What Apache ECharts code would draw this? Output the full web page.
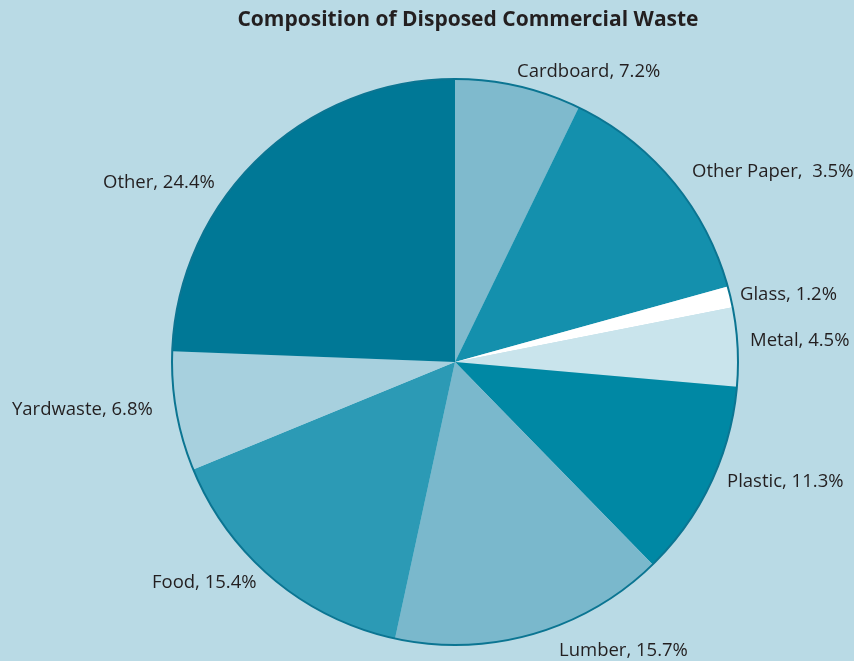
<!DOCTYPE html>
<html>
<head>
<meta charset="utf-8">
<script src="https://cdn.jsdelivr.net/npm/echarts@6/dist/echarts.min.js"></script>
<style>
html,body{margin:0;padding:0;background:#b9dae5;}
#chart{width:854px;height:661px;}
</style>
</head>
<body>
<div id="chart"></div>
<script>
// Data (slice sizes), with the labels as printed
const categories = ['Cardboard','Other Paper','Glass','Metal','Plastic','Lumber','Food','Yardwaste','Other'];
const values = [7.2, 13.5, 1.2, 4.5, 11.3, 15.7, 15.4, 6.8, 24.4];
const labelTexts = ['Cardboard, 7.2%','Other Paper,  3.5%','Glass, 1.2%','Metal, 4.5%','Plastic, 11.3%','Lumber, 15.7%','Food, 15.4%','Yardwaste, 6.8%','Other, 24.4%'];

// Styles
const colors = ['#7fbacd','#1490ad','#ffffff','#c9e4ec','#0088a4','#7ab8cc','#2c9ab5','#a7d0de','#007896'];
const labelPos = [[517,72],[692,172],[740,295],[750,341],[727,482],[559,651],[152,583],[12,410],[103,183]];

const chart = echarts.init(document.getElementById('chart'));
const FONT = '"Open Sans", "Liberation Sans", sans-serif';
chart.setOption({
  backgroundColor: '#b9dae5',
  animation: false,
  title: {
    text: 'Composition of Disposed Commercial Waste',
    left: 463, top: 5, textAlign: 'center',
    textStyle: {fontFamily: FONT, fontWeight: 'bold', fontSize: 21, color: '#231f20'}
  },
  series: [{
    type: 'pie',
    center: [455, 362],
    radius: [0, 283],
    startAngle: 90,
    clockwise: true,
    avoidLabelOverlap: false,
    data: categories.map((c, i) => ({
      name: c, value: values[i],
      itemStyle: {color: colors[i]},
      label: {formatter: labelTexts[i]}
    })),
    itemStyle: {borderWidth: 0},
    label: {show: true, position: 'outside', fontFamily: FONT, fontSize: 18.5, color: '#231f20'},
    labelLine: {show: false},
    labelLayout: function (p) {
      const pos = labelPos[p.dataIndex];
      return {x: pos[0], y: pos[1], align: 'left', verticalAlign: 'middle'};
    },
    emphasis: {disabled: true}
  }, {
    type: 'pie',
    silent: true,
    center: [455, 362],
    radius: [0, 283],
    data: [{value: 1, name: 'ring'}],
    itemStyle: {color: 'rgba(0,0,0,0)', borderColor: '#0b7592', borderWidth: 2},
    label: {show: false},
    labelLine: {show: false}
  }]
});
</script>
</body>
</html>
